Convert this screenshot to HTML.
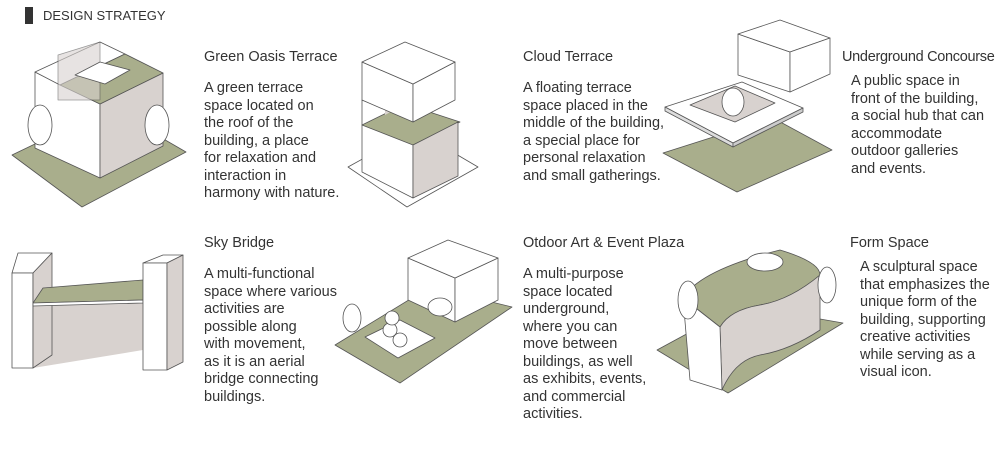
<!DOCTYPE html>
<html><head><meta charset="utf-8"><style>
body{margin:0;width:1000px;height:454px;background:#fff;position:relative;overflow:hidden;font-family:"Liberation Sans","Noto Sans CJK KR",sans-serif;color:#333}
.t{position:absolute;font-size:14.5px;line-height:17.5px;white-space:nowrap}
.h{position:absolute;font-size:14.5px;white-space:nowrap}
svg{position:absolute;left:0;top:0}
</style></head><body>
<div style="position:absolute;left:25px;top:7px;width:8px;height:17px;background:#333"></div>
<div class="h" style="left:43px;top:8px;font-size:13px">DESIGN STRATEGY</div>

<svg width="1000" height="454" stroke="#555" stroke-width="0.8" stroke-linejoin="round">
<!-- 1 Green Oasis -->
<polygon points="12,155 110,108 186,152 82,207" fill="#a9ae8c"/>
<polygon points="35,72 35,148 100,178 100,104" fill="#fff"/>
<polygon points="100,104 100,178 163,146 163,73" fill="#d8d2cf"/>
<polygon points="35,72 100,42 125,54 60,85" fill="#fff"/>
<polygon points="60,85 125,54 163,73 100,104" fill="#a9ae8c"/>
<polygon points="58,55 100,42 100,100 58,100" fill="#d8d2cf" opacity="0.6"/>
<polygon points="75,75 100,62 130,70 105,84" fill="#fff"/>
<ellipse cx="40" cy="125" rx="12" ry="20" fill="#fff"/>
<ellipse cx="157" cy="125" rx="12" ry="20" fill="#fff"/>
<!-- 2 Cloud Terrace -->
<polygon points="348,167 415,130 478,167 407,207" fill="#fff"/>
<polygon points="362,100 362,172 413,198 413,120" fill="#fff"/>
<polygon points="362,125 405,104 460,122 413,145" fill="#a9ae8c"/>
<polygon points="413,145 413,198 458,176 458,122" fill="#d8d2cf"/>
<polygon points="385,96 385,115 405,104" fill="#d8d2cf" stroke="none"/>
<polygon points="362,62 362,100 413,122 413,84" fill="#fff"/>
<polygon points="413,84 413,122 455,100 455,62" fill="#fff"/>
<polygon points="362,62 405,42 455,62 413,84" fill="#fff"/>
<!-- 3 Underground -->
<polygon points="663,153 773,118 832,150 737,192" fill="#a9ae8c"/>
<polygon points="665,107 742,82 803,108 733,143" fill="#fff"/>
<polygon points="665,107 665,111 733,147 733,143" fill="#ddd"/>
<polygon points="733,143 733,147 803,112 803,108" fill="#ccc"/>
<polygon points="690,105 735,86 775,103 735,122" fill="#d8d2cf"/>
<polygon points="738,34 738,75 790,92 790,52" fill="#fff"/>
<polygon points="738,34 780,20 830,38 790,52" fill="#fff"/>
<polygon points="790,52 790,92 830,74 830,38" fill="#fff"/>
<ellipse cx="733" cy="102" rx="11" ry="14" fill="#fff"/>
<!-- 4 Sky Bridge -->
<polygon points="33,300 143,300 143,350 33,368" fill="#d8d2cf" stroke="none"/>
<polygon points="18,253 52,253 33,273 12,273" fill="#fff"/>
<polygon points="12,273 33,273 33,368 12,368" fill="#fff"/>
<polygon points="33,273 52,253 52,355 33,368" fill="#d8d2cf"/>
<polygon points="43,288 143,280 143,300 33,303" fill="#a9ae8c"/>
<polygon points="33,303 143,300 143,303 33,306" fill="#fff"/>
<polygon points="143,263 163,255 183,255 167,263" fill="#fff"/>
<polygon points="143,263 167,263 167,370 143,370" fill="#fff"/>
<polygon points="167,263 183,255 183,362 167,370" fill="#d8d2cf"/>
<!-- 5 Art plaza -->
<polygon points="335,345 430,287 512,307 400,383" fill="#a9ae8c"/>
<polygon points="365,337 400,320 435,338 398,358" fill="#fff"/>
<polygon points="408,258 408,300 455,322 455,278" fill="#fff"/>
<polygon points="455,278 455,322 498,300 498,258" fill="#fff"/>
<polygon points="408,258 448,240 498,258 455,278" fill="#fff"/>
<circle cx="390" cy="330" r="7" fill="#fff"/><circle cx="400" cy="340" r="7" fill="#fff"/><circle cx="392" cy="318" r="7" fill="#fff"/>
<ellipse cx="440" cy="307" rx="12" ry="9" fill="#fff"/>
<ellipse cx="352" cy="318" rx="9" ry="14" fill="#fff"/>
<!-- 6 Form Space -->
<polygon points="657,350 740,305 843,323 728,393" fill="#a9ae8c"/>
<path d="M683,298 Q700,270 780,250 Q820,262 820,275 Q790,300 760,305 Q730,310 720,327 Z" fill="#a9ae8c"/>
<path d="M720,327 Q730,310 760,305 Q790,300 820,275 L820,330 Q790,350 760,355 Q735,360 722,390 Z" fill="#d8d2cf"/>
<polygon points="683,298 720,327 722,390 690,380" fill="#fff"/>
<ellipse cx="688" cy="300" rx="10" ry="19" fill="#fff"/>
<ellipse cx="827" cy="285" rx="9" ry="18" fill="#fff"/>
<ellipse cx="765" cy="262" rx="18" ry="9" fill="#fff"/>
</svg>

<div class="h" style="left:204px;top:49px">Green Oasis Terrace</div>
<div class="t" style="left:204px;top:80px">A green terrace<br>space located on<br>the roof of the<br>building, a place<br>for relaxation and<br>interaction in<br>harmony with nature.</div>

<div class="h" style="left:523px;top:49px">Cloud Terrace</div>
<div class="t" style="left:523px;top:80px">A floating terrace<br>space placed in the<br>middle of the building,<br>a special place for<br>personal relaxation<br>and small gatherings.</div>

<div class="h" style="left:842px;top:49px;letter-spacing:-0.3px">Underground Concourse</div>
<div class="t" style="left:851px;top:73px">A public space in<br>front of the building,<br>a social hub that can<br>accommodate<br>outdoor galleries<br>and events.</div>

<div class="h" style="left:204px;top:235px">Sky Bridge</div>
<div class="t" style="left:204px;top:266px">A multi-functional<br>space where various<br>activities are<br>possible along<br>with movement,<br>as it is an aerial<br>bridge connecting<br>buildings.</div>

<div class="h" style="left:523px;top:235px">Otdoor Art &amp; Event Plaza</div>
<div class="t" style="left:523px;top:266px">A multi-purpose<br>space located<br>underground,<br>where you can<br>move between<br>buildings, as well<br>as exhibits, events,<br>and commercial<br>activities.</div>

<div class="h" style="left:850px;top:235px">Form Space</div>
<div class="t" style="left:860px;top:259px">A sculptural space<br>that emphasizes the<br>unique form of the<br>building, supporting<br>creative activities<br>while serving as a<br>visual icon.</div>
</body></html>
